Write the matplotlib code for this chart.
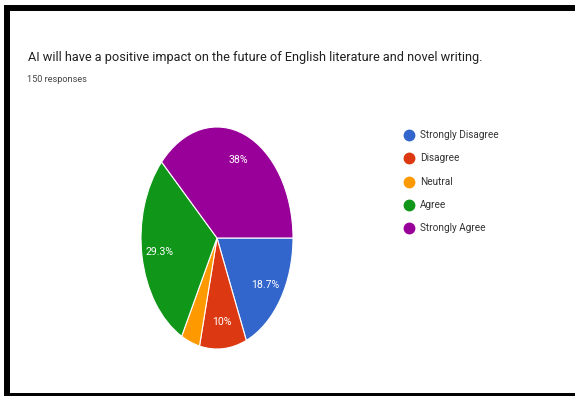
import numpy as np
import matplotlib.pyplot as plt
from matplotlib.patches import Rectangle
from matplotlib.lines import Line2D

plt.rcParams['font.family'] = ['Roboto', 'DejaVu Sans']

# Survey answers
question = "AI will have a positive impact on the future of English literature and novel writing."
n_responses = 150
answers = ['Strongly Disagree', 'Disagree', 'Neutral', 'Agree', 'Strongly Agree']
shares = [18.7, 10.0, 4.0, 29.3, 38.0]
colors = ['#3366cc', '#dc3912', '#ff9900', '#109618', '#990099']

W, H = 575, 396
fig = plt.figure(figsize=(W / 100, H / 100), dpi=100)
fig.patch.set_facecolor('white')

def px(x, y):
    # pixel position (from top-left) to figure fraction
    return x / W, 1 - y / H

# black frame around the card
fig.patches.append(Rectangle((7 / W, 0), 575 / W, 1 - 8 / H, transform=fig.transFigure,
                             fill=False, edgecolor='black', linewidth=4.3))

fig.text(*px(28, 58), question, fontsize=9.2, color='#212121', va='center', ha='left')
fig.text(*px(27, 80), f"{n_responses} responses", fontsize=6.6, color='#444444',
         va='center', ha='left')

# the pie is drawn stretched (taller than wide)
cx, cy, rx, ry = 217, 238, 76, 111
ax = fig.add_axes([(cx - rx) / W, (H - cy - ry) / H, 2 * rx / W, 2 * ry / H])
wedges, texts = ax.pie(shares, colors=colors, startangle=0, counterclock=False,
                       wedgeprops=dict(edgecolor='white', linewidth=0.8))
ax.set_aspect('auto')
ax.set_xlim(-1, 1)
ax.set_ylim(-1, 1)

# percentage labels inside the slices (skip the tiny one)
start = 0.0
for val in shares:
    mid = np.deg2rad(-(start + val * 3.6 / 2))
    start += val * 3.6
    if val < 5:
        continue
    ax.text(0.76 * np.cos(mid), 0.76 * np.sin(mid), f"{val:g}%", color='white',
            fontsize=7.6, ha='center', va='center')

# legend with round markers
for i, (name, c) in enumerate(zip(answers, colors)):
    y = 135 + i * 23.3
    fig.lines.append(Line2D([409 / W], [1 - y / H], marker='o', markersize=7.5,
                            color=c, transform=fig.transFigure))
    fig.text(*px(420, y), name, fontsize=7.2, color='#333333', va='center', ha='left')

fig.savefig('out.png', dpi=100)
